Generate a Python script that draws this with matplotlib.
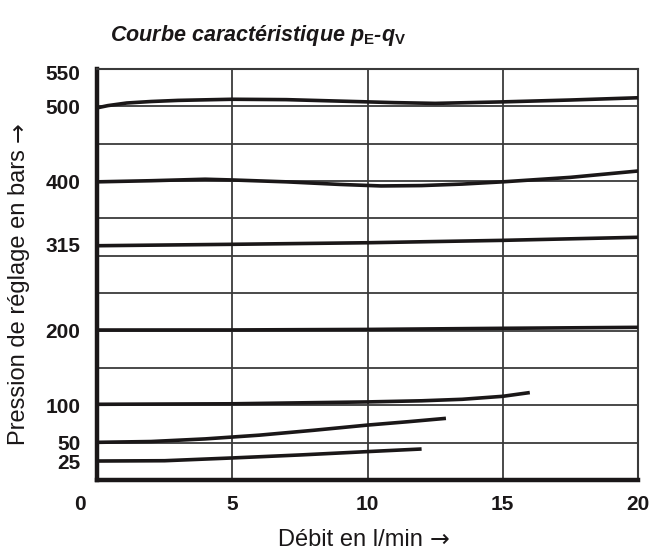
import matplotlib
matplotlib.use("Agg")
import matplotlib.pyplot as plt
from matplotlib.transforms import ScaledTranslation

plt.rcParams['font.family'] = ['Liberation Sans', 'DejaVu Sans']
plt.rcParams['mathtext.fontset'] = 'custom'
plt.rcParams['mathtext.it'] = 'Liberation Sans:italic:bold'
plt.rcParams['mathtext.rm'] = 'Liberation Sans:bold'
plt.rcParams['mathtext.bf'] = 'Liberation Sans:bold'

# Data
x_500 = [0, 0.4, 1.1, 2, 3, 5, 7, 9, 11, 12.5, 15, 17.5, 20]
y_500 = [498, 501, 504.5, 506.5, 508, 509.5, 509, 507, 505, 504, 506, 508.5, 511.5]
x_400 = [0, 2, 4, 5, 7, 9, 10.5, 12, 13.5, 15, 17.5, 20]
y_400 = [399, 400.5, 402.5, 401.5, 399, 395.5, 393.5, 394, 396, 399, 405, 413.5]
x_315 = [0, 5, 10, 15, 20]
y_315 = [313.5, 315.4, 317.5, 320.7, 324.8]
x_200 = [0, 5, 10, 15, 20]
y_200 = [200.7, 200.8, 201.5, 203, 204.3]
x_100 = [0, 5, 10, 12, 13.5, 15, 16]
y_100 = [101.3, 102, 104.5, 106, 108, 112, 117]
x_50 = [0, 2, 4, 6, 8, 10, 11.5, 12.9]
y_50 = [50.4, 51.5, 55, 60, 66.5, 73.5, 78, 82.5]
x_25 = [0, 2.5, 5, 7.5, 10, 12]
y_25 = [25.4, 25.8, 29.5, 33.5, 38, 41.5]

curves = [(x_500, y_500), (x_400, y_400), (x_315, y_315), (x_200, y_200),
          (x_100, y_100), (x_50, y_50), (x_25, y_25)]

y_ticks = [25, 50, 100, 200, 315, 400, 500, 550]
x_ticks = [0, 5, 10, 15, 20]
y_grid = list(range(50, 550, 50))
x_grid = [5, 10, 15]

fig = plt.figure(figsize=(6.5, 5.52), dpi=100)
ax = fig.add_axes([97/650, 1-480/552, (638-97)/650, (480-69)/552])

for yg in y_grid:
    ax.axhline(yg, color='#3a3a3a', lw=1.3, zorder=1)
for xg in x_grid:
    ax.axvline(xg, color='#3a3a3a', lw=1.3, zorder=1)

for xs, ys in curves:
    ax.plot(xs, ys, color='#1a1718', lw=2.6, solid_capstyle='butt', zorder=3)

ax.set_xlim(0, 20)
ax.set_ylim(0, 550)

ax.spines['left'].set_linewidth(3.2)
ax.spines['bottom'].set_linewidth(3.2)
ax.spines['top'].set_linewidth(1.5)
ax.spines['right'].set_linewidth(1.5)
for s in ['left', 'bottom']:
    ax.spines[s].set_color('#1a1718')
for s in ['top', 'right']:
    ax.spines[s].set_color('#3a3a3a')

ax.set_yticks(y_ticks)
ax.set_yticklabels([str(v) for v in y_ticks], fontsize=15, fontweight='bold')
ax.set_xticks(x_ticks)
ax.set_xticklabels([str(v) for v in x_ticks], fontsize=15, fontweight='bold')
ax.tick_params(axis='y', length=0, pad=12, colors='#1a1718')
ax.tick_params(axis='x', length=0, pad=11, colors='#1a1718')

# shift the "0" x label to the left of the corner, 550 label slightly down
lbl0 = ax.get_xticklabels()[0]
lbl0.set_transform(lbl0.get_transform() + ScaledTranslation(-0.17, 0, fig.dpi_scale_trans))
lbl550 = ax.get_yticklabels()[-1]
lbl550.set_transform(lbl550.get_transform() + ScaledTranslation(0, -0.03, fig.dpi_scale_trans))

fig.text(110/650, 1-36/552, r'Courbe caractéristique $p_{\mathrm{E}}$-$q_{\mathrm{V}}$',
         ha='left', va='center', fontsize=15.5, fontweight='bold', style='italic',
         color='#1a1718')

tx = fig.text(278/650, 1-540/552, 'Débit en l/min', ha='left', va='center',
              fontsize=17, color='#1a1718')
ax.annotate('→', xy=(1, 0.5), xycoords=tx, xytext=(5, 0), textcoords='offset points',
            ha='left', va='center', fontsize=17, color='#1a1718',
            family='DejaVu Sans', annotation_clip=False)

ty = fig.text(19/650, 1-445/552, 'Pression de réglage en bars', ha='center', va='bottom',
              rotation=90, fontsize=17, color='#1a1718')
ax.annotate('→', xy=(0.5, 1), xycoords=ty, xytext=(0, 5), textcoords='offset points',
            ha='center', va='bottom', rotation=90, fontsize=17, color='#1a1718',
            family='DejaVu Sans', annotation_clip=False)

fig.savefig('out.png', dpi=100)
